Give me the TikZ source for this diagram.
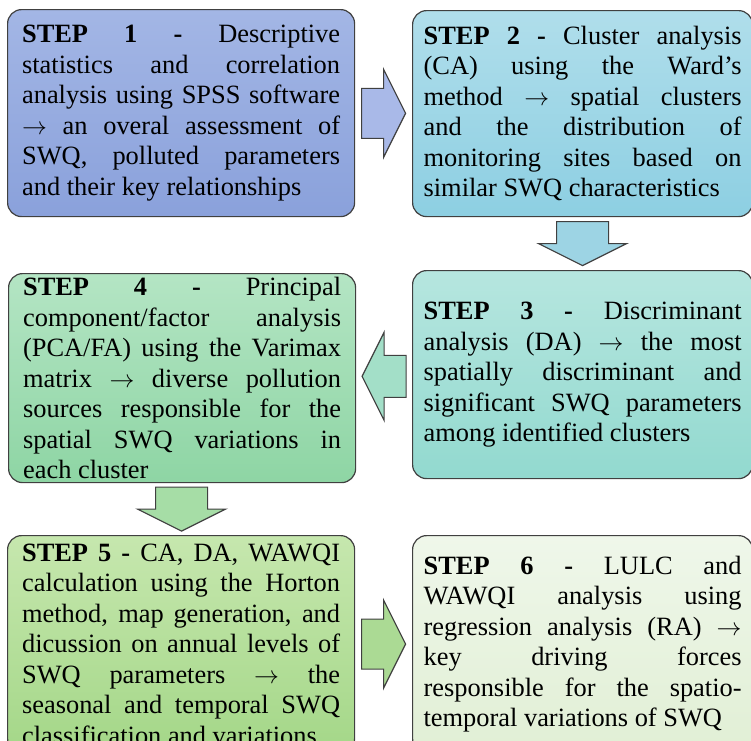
\documentclass[tikz,border=0pt]{standalone}
\usepackage{fontspec}
\setmainfont{Liberation Serif}
\usepackage{tikz}
\usetikzlibrary{calc}
\definecolor{oneT}{HTML}{A3B6E5}
\definecolor{oneB}{HTML}{8AA1DB}
\definecolor{twoT}{HTML}{B0DEEB}
\definecolor{twoB}{HTML}{8DCFE2}
\definecolor{threeT}{HTML}{B6E6DF}
\definecolor{threeB}{HTML}{92D9CF}
\definecolor{fourT}{HTML}{B4E5C4}
\definecolor{fourB}{HTML}{8ED5A4}
\definecolor{fiveT}{HTML}{C6E7AE}
\definecolor{fiveB}{HTML}{A4D788}
\definecolor{sixT}{HTML}{EFF7EA}
\definecolor{sixB}{HTML}{E1EFD5}
\definecolor{arrA}{HTML}{A9B9E8}
\definecolor{arrB}{HTML}{9DD4E4}
\definecolor{arrC}{HTML}{A3DFC8}
\definecolor{arrD}{HTML}{A6DDA6}
\definecolor{arrE}{HTML}{ABDA94}
\definecolor{edge}{HTML}{404040}
\tolerance=10000
\hbadness=10000
\newcommand{\ra}{$\rightarrow$}
\tikzset{
  sbox/.style={draw=edge,line width=1.2pt,rounded corners=14pt,anchor=north west,
    align=justify,text width=318pt,inner ysep=0pt,
    font=\fontsize{26.4}{30.5}\selectfont},
  sleft/.style={sbox,inner xsep=14.5pt,minimum width=347pt},
  sright/.style={sbox,inner xsep=11pt,minimum width=338pt},
  sarr/.style={draw=edge,line width=1.2pt,line join=miter},
  pics/blockarr/.style={code={
    \path[pic actions] (-22,-#1) -- (0,-#1) -- (0,-44) -- (22,0) -- (0,44) -- (0,#1) -- (-22,#1) -- cycle;
  }}
}
\begin{document}
\begin{tikzpicture}[x=1pt,y=-1pt]
  \useasboundingbox (0,0) rectangle (751,740);
  \clip (0,0) rectangle (751,740);
  \node[sleft,top color=oneT,bottom color=oneB,minimum height=207pt] (s1) at (7,9)
    {\textbf{STEP 1 -} Descriptive\linebreak statistics and correlation\linebreak analysis using SPSS software\linebreak
     \ra{} an overal assessment of\linebreak SWQ, polluted parameters\linebreak and their key relationships};
  \node[sright,top color=twoT,bottom color=twoB,minimum height=206pt] (s2) at (412,10)
    {\textbf{STEP 2 -} Cluster analysis\linebreak (CA) using the Ward’s\linebreak method \ra{} spatial clusters\linebreak
     and the distribution of\linebreak monitoring sites based on\linebreak similar SWQ characteristics};
  \node[sright,top color=threeT,bottom color=threeB,minimum height=208pt] (s3) at (412,270)
    {\textbf{STEP 3 -} Discriminant\linebreak analysis (DA) \ra{} the most\linebreak spatially discriminant and\linebreak
     significant SWQ parameters\linebreak among identified clusters};
  \node[sleft,top color=fourT,bottom color=fourB,minimum height=209pt] (s4) at (8,273)
    {\textbf{STEP 4 -} Principal\linebreak component/factor analysis\linebreak (PCA/FA) using the Varimax\linebreak
     matrix \ra{} diverse pollution\linebreak sources responsible for the\linebreak spatial SWQ variations in\linebreak each cluster};
  \node[sleft,top color=fiveT,bottom color=fiveB,minimum height=217pt] (s5) at (7,535)
    {\textbf{STEP 5 -} CA, DA, WAWQI\linebreak calculation using the Horton\linebreak method, map generation, and\linebreak
     dicussion on annual levels of\linebreak SWQ parameters \ra{} the\linebreak seasonal and temporal SWQ\linebreak classification and variations};
  \node[sright,top color=sixT,bottom color=sixB,minimum height=217pt] (s6) at (412,535)
    {\textbf{STEP 6 -} LULC and\linebreak WAWQI analysis using\linebreak regression analysis (RA) \ra\linebreak
     key driving forces\linebreak responsible for the spatio-\linebreak temporal variations of SWQ};
  \pic[sarr,fill=arrA] at ($(s1.east)!0.5!(s2.west)$) {blockarr=25};
  \pic[sarr,fill=arrB,rotate=-90] at ($(s2.south)!0.5!(s3.north)$) {blockarr=26};
  \pic[sarr,fill=arrC,rotate=180] at ($(s3.west)!0.5!(s4.east)$) {blockarr=21};
  \pic[sarr,fill=arrD,rotate=-90] at ($(s4.south)!0.5!(s5.north)$) {blockarr=26};
  \pic[sarr,fill=arrE] at ($(s5.east)!0.5!(s6.west)$) {blockarr=25};
\end{tikzpicture}
\end{document}
